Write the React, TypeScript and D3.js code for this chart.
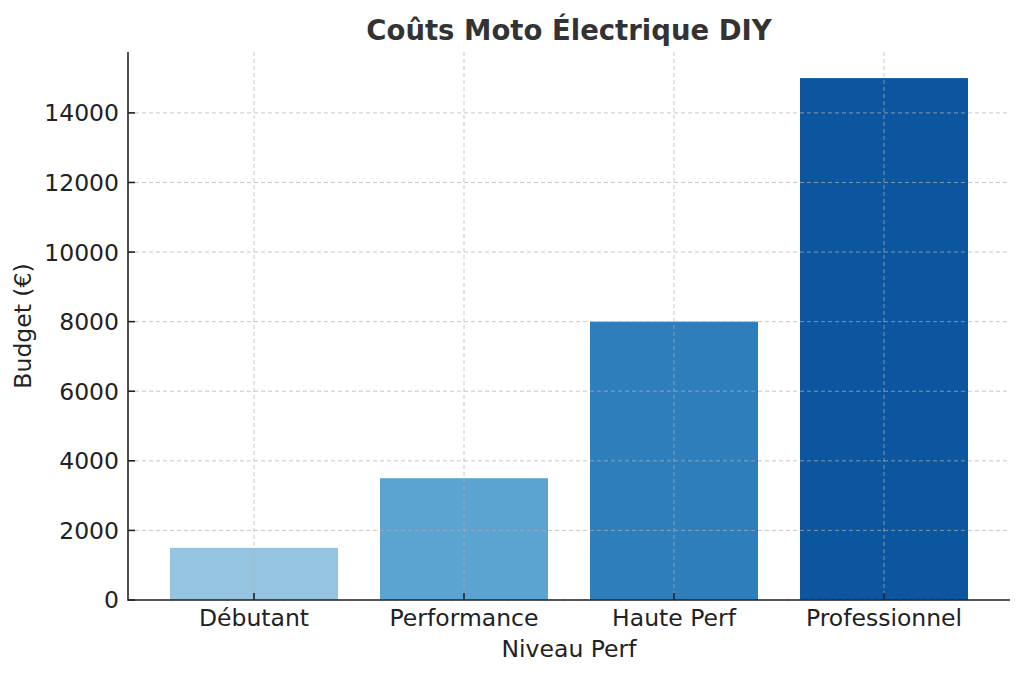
import React from "react";
import * as d3 from "d3";

const categories = ["Débutant", "Performance", "Haute Perf", "Professionnel"];
const budgets = [1500, 3500, 8000, 15000];
const barColors = ["#94c4df", "#5ba3d0", "#2f7ebc", "#0c56a0"];
const yTicks = [0, 2000, 4000, 6000, 8000, 10000, 12000, 14000];
const title = "Coûts Moto Électrique DIY";
const xLabel = "Niveau Perf";
const yLabel = "Budget (€)";

const W = 1024;
const H = 676;
const left = 128;
const right = 1010;
const top = 52;
const bottom = 600;
const font = "'DejaVu Sans', sans-serif";
const fs = 23.5;

export default function App() {
  const x = d3
    .scaleLinear()
    .domain([-0.6, categories.length - 0.4])
    .range([left, right]);
  const y = d3
    .scaleLinear()
    .domain([0, d3.max(budgets)! * 1.05])
    .range([bottom, top]);
  const barW = x(0.4) - x(-0.4);

  return (
    <svg
      width={W}
      height={H}
      style={{ position: "absolute", left: 0, top: 0, background: "#fff" }}
      fontFamily={font}
    >
      {categories.map((c, i) => (
        <rect
          key={c}
          x={x(i) - barW / 2}
          y={y(budgets[i])}
          width={barW}
          height={bottom - y(budgets[i])}
          fill={barColors[i]}
        />
      ))}
      {/* grid */}
      {yTicks.map((t) => (
        <line
          key={"gy" + t}
          x1={left}
          x2={right}
          y1={y(t)}
          y2={y(t)}
          stroke="#b0b0b0"
          strokeOpacity={0.7}
          strokeWidth={1}
          strokeDasharray="4,3"
        />
      ))}
      {categories.map((c, i) => (
        <line
          key={"gx" + c}
          x1={x(i)}
          x2={x(i)}
          y1={top}
          y2={bottom}
          stroke="#b0b0b0"
          strokeOpacity={0.7}
          strokeWidth={1}
          strokeDasharray="4,3"
        />
      ))}
      {/* spines */}
      <line x1={left} x2={left} y1={top} y2={bottom + 0.8} stroke="#222" strokeWidth={1.6} />
      <line x1={left} x2={right} y1={bottom} y2={bottom} stroke="#222" strokeWidth={1.6} />
      {/* y ticks */}
      {yTicks.map((t) => (
        <g key={"ty" + t}>
          <line x1={left} x2={left + 7} y1={y(t)} y2={y(t)} stroke="#222" strokeWidth={1.6} />
          <text
            x={left - 9}
            y={y(t)}
            dy="0.36em"
            textAnchor="end"
            fontSize={fs}
            fill="#222"
          >
            {t}
          </text>
        </g>
      ))}
      {/* x ticks */}
      {categories.map((c, i) => (
        <g key={"tx" + c}>
          <line x1={x(i)} x2={x(i)} y1={bottom} y2={bottom - 7} stroke="#222" strokeWidth={1.6} />
          <text x={x(i)} y={626} textAnchor="middle" fontSize={fs} fill="#222">
            {c}
          </text>
        </g>
      ))}
      <text x={(left + right) / 2} y={657} textAnchor="middle" fontSize={fs} fill="#222">
        {xLabel}
      </text>
      <text
        transform={`translate(31, ${(top + bottom) / 2}) rotate(-90)`}
        textAnchor="middle"
        fontSize={fs}
        fill="#222"
      >
        {yLabel}
      </text>
      <text
        x={(left + right) / 2}
        y={40}
        textAnchor="middle"
        fontSize={27.5}
        fontWeight="bold"
        fill="#333"
      >
        {title}
      </text>
    </svg>
  );
}
